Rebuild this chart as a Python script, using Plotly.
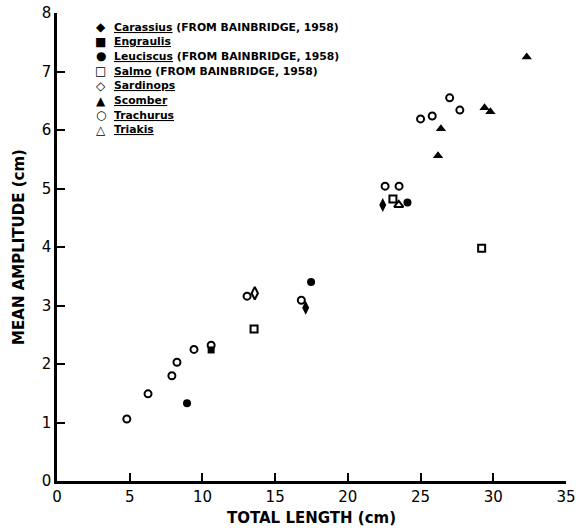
import plotly.graph_objects as go

# ---- data ----
carassius_x = [17.1, 22.4]
carassius_y = [2.96, 4.72]
engraulis_x = [10.6]
engraulis_y = [2.24]
leuciscus_x = [8.94, 17.47, 24.1]
leuciscus_y = [1.33, 3.40, 4.76]
salmo_x = [13.55, 23.1, 29.2]
salmo_y = [2.60, 4.82, 3.98]
sardinops_x = [13.6]
sardinops_y = [3.21]
scomber_x = [26.2, 26.4, 29.4, 29.8, 32.3]
scomber_y = [5.56, 6.02, 6.38, 6.31, 7.25]
trachurus_x = [4.8, 6.26, 7.9, 8.25, 9.42, 10.6, 13.07, 16.8, 22.56, 23.52, 25.0, 25.8, 27.0, 27.7]
trachurus_y = [1.06, 1.49, 1.80, 2.03, 2.25, 2.32, 3.16, 3.09, 5.04, 5.04, 6.19, 6.24, 6.55, 6.34]
triakis_x = [23.5]
triakis_y = [4.72]

legend_names = ["Carassius", "Engraulis", "Leuciscus", "Salmo",
                "Sardinops", "Scomber", "Trachurus", "Triakis"]
legend_notes = [" (FROM BAINBRIDGE, 1958)", "", " (FROM BAINBRIDGE, 1958)",
                " (FROM BAINBRIDGE, 1958)", "", "", "", ""]
legend_glyphs = ["\u25C6", "\u25A0", "\u25CF", "\u25A1", "\u25C7", "\u25B2", "\u25CB", "\u25B3"]

x_ticks = [0, 5, 10, 15, 20, 25, 30, 35]
y_ticks = [0, 1, 2, 3, 4, 5, 6, 7, 8]

series = [
    (carassius_x, carassius_y, "diamond-tall", 10),
    (engraulis_x, engraulis_y, "square", 7),
    (leuciscus_x, leuciscus_y, "circle", 8),
    (salmo_x, salmo_y, "square-open", 7),
    (sardinops_x, sardinops_y, "diamond-tall-open", 9),
    (scomber_x, scomber_y, "triangle-up", 9),
    (trachurus_x, trachurus_y, "circle-open", 7),
    (triakis_x, triakis_y, "triangle-up-open", 8),
]

fig = go.Figure()
for (xs, ys, sym, sz), name in zip(series, legend_names):
    fig.add_trace(go.Scatter(
        x=xs, y=ys, mode="markers", name=name, showlegend=False,
        marker=dict(symbol=sym, size=sz, color="black",
                    line=dict(color="black", width=2 if "open" in sym else 0)),
    ))

FONT = "DejaVu Sans"
annotations = []
row0 = 0.970
step = 0.0314
for i, (nm, note, gl) in enumerate(zip(legend_names, legend_notes, legend_glyphs)):
    yy = row0 - i * step
    annotations.append(dict(xref="paper", yref="paper", x=0.0864, y=yy,
                            text="<b>" + gl + "</b>", showarrow=False, xanchor="center", yanchor="middle",
                            font=dict(family=FONT, size=12, color="black")))
    annotations.append(dict(xref="paper", yref="paper", x=0.108, y=yy,
                            text="<b><u>" + nm + "</u>" + note + "</b>", showarrow=False,
                            xanchor="left", yanchor="middle",
                            font=dict(family=FONT, size=10.8, color="black")))

fig.update_layout(
    width=579, height=528,
    margin=dict(l=57, r=13, t=13, b=47),
    plot_bgcolor="white", paper_bgcolor="white",
    font=dict(family=FONT, color="black"),
    annotations=annotations,
    xaxis=dict(range=[0, 35], tickvals=x_ticks, ticks="inside", ticklen=8, tickwidth=2,
               tickcolor="black", showline=True, linecolor="black", linewidth=2.5,
               showgrid=False, zeroline=False, tickfont=dict(size=15, family=FONT),
               automargin=False,
               title=dict(text="<b>TOTAL LENGTH (cm)</b>", font=dict(size=15, family=FONT), standoff=8)),
    yaxis=dict(range=[0, 8], tickvals=y_ticks, ticks="inside", ticklen=8, tickwidth=2,
               tickcolor="black", showline=True, linecolor="black", linewidth=2.5,
               showgrid=False, zeroline=False, tickfont=dict(size=15, family=FONT),
               automargin=False,
               title=dict(text="<b>MEAN AMPLITUDE (cm)</b>", font=dict(size=15, family=FONT), standoff=14)),
)

fig.write_html("out.html")
